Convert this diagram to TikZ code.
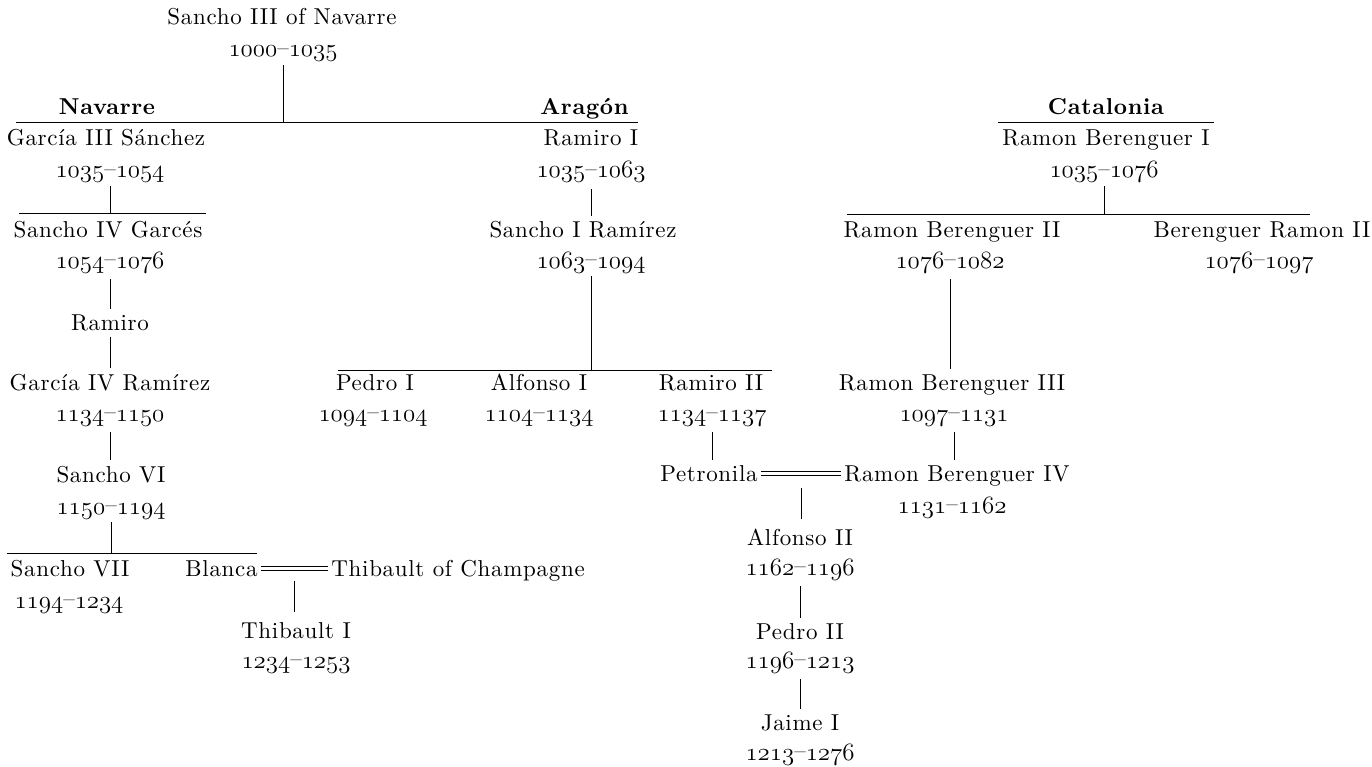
\documentclass[tikz,border=0pt]{standalone}
\usepackage{fontspec}
\setmainfont{lmroman10-regular}[Extension=.otf, BoldFont=lmroman10-bold, LetterSpace=3]
\newcommand\osf[1]{{\usefont{OML}{lmm}{m}{it}#1}}
\newcommand\yrs[2]{\osf{#1}\raisebox{.06em}{\textendash}\osf{#2}}
\newcommand\fs{\fontsize{23}{27}\selectfont}
\tikzset{
  nm/.style={anchor=base, inner sep=3pt, font=\fs},
  dt/.style={anchor=base, inner sep=3pt, font=\fs},
  hd/.style={anchor=base, inner sep=3pt, font=\fs\bfseries},
  cn/.style={shorten <=3pt, shorten >=2pt},
  ln/.style={line width=0.8pt}
}
\begin{document}
\begin{tikzpicture}[x=1pt, y=-1pt, line width=0.8pt]
\useasboundingbox (0,0) rectangle (1372,767);
% root
\node[nm] (s3) at (282,25) {Sancho III of Navarre};
\node[dt] (s3d) at (283,57) {\yrs{1000}{1035}};
\node[hd] (hnav) at (107,115) {Navarre};
\node[hd, anchor=base east] (harag) at (632,115) {Aragón};
\node[hd] (hcat) at (1106,115) {Catalonia};
\coordinate (tL) at (16,122); \coordinate (tR) at (638,122);
\coordinate (cL) at (998,122); \coordinate (cR) at (1214,122);
% Navarre
\node[nm] (g3) at (106,146) {García III Sánchez};
\node[dt] (g3d) at (110,178) {\yrs{1035}{1054}};
\coordinate (nb1L) at (19,213); \coordinate (nb1R) at (206,213);
\node[nm] (s4) at (108,238) {Sancho IV Garcés};
\node[dt] (s4d) at (110,268) {\yrs{1054}{1076}};
\node[nm] (ram) at (110,330) {Ramiro};
\node[nm] (g4) at (110,390) {García IV Ramírez};
\node[dt] (g4d) at (110,421) {\yrs{1134}{1150}};
\node[nm] (s6) at (111,482) {Sancho VI};
\node[dt] (s6d) at (111,514) {\yrs{1150}{1194}};
\coordinate (nb2L) at (7,553); \coordinate (nb2R) at (257,553);
\node[nm] (s7) at (70,576) {Sancho VII};
\node[dt] (s7d) at (69,608) {\yrs{1194}{1234}};
\node[nm, anchor=base east] (bla) at (261,576) {Blanca};
\node[nm, anchor=base west] (thc) at (328,576) {Thibault of Champagne};
\node[nm] (th1) at (296,638) {Thibault I};
\node[dt] (th1d) at (296,668) {\yrs{1234}{1253}};
% Aragon
\node[nm] (r1) at (591,146) {Ramiro I};
\node[dt] (r1d) at (591,178) {\yrs{1035}{1063}};
\node[nm] (s1r) at (583,238) {Sancho I Ramírez};
\node[dt] (s1rd) at (591,268) {\yrs{1063}{1094}};
\coordinate (abL) at (338,370); \coordinate (abR) at (772,370);
\node[nm] (p1) at (375,390) {Pedro I};
\node[dt] (p1d) at (373,421) {\yrs{1094}{1104}};
\node[nm] (a1) at (539,390) {Alfonso I};
\node[dt] (a1d) at (539,421) {\yrs{1104}{1134}};
\node[nm] (r2) at (711,390) {Ramiro II};
\node[dt] (r2d) at (712,421) {\yrs{1134}{1137}};
\node[nm, anchor=base east] (pet) at (761,481) {Petronila};
\node[nm, anchor=base west] (rb4) at (841,481) {Ramon Berenguer IV};
\node[dt] (rb4d) at (952,513) {\yrs{1131}{1162}};
\node[nm] (a2) at (800,545) {Alfonso II};
\node[dt] (a2d) at (800,575) {\yrs{1162}{1196}};
\node[nm] (p2) at (800,639) {Pedro II};
\node[dt] (p2d) at (800,668) {\yrs{1196}{1213}};
\node[nm] (j1) at (800,730) {Jaime I};
\node[dt] (j1d) at (800,760) {\yrs{1213}{1276}};
% Catalonia
\node[nm] (rb1) at (1106,146) {Ramon Berenguer I};
\node[dt] (rb1d) at (1104,178) {\yrs{1035}{1076}};
\coordinate (cbL) at (847,214); \coordinate (cbR) at (1310,214);
\node[nm] (rb2) at (952,238) {Ramon Berenguer II};
\node[dt] (rb2d) at (950,268) {\yrs{1076}{1082}};
\node[nm] (br2) at (1262,238) {Berenguer Ramon II};
\node[dt] (br2d) at (1259,268) {\yrs{1076}{1097}};
\node[nm] (rb3) at (952,390) {Ramon Berenguer III};
\node[dt] (rb3d) at (954,421) {\yrs{1097}{1131}};
% connectors
\draw (s3d.south) -- (s3d.south |- tL);
\draw (tL) -- (tR);
\draw (cL) -- (cR);
\draw (g3d.south) -- (g3d.south |- nb1L);
\draw (nb1L) -- (nb1R);
\draw[cn] (s4d.south) -- (ram.north -| s4d.south);
\draw[cn] (ram.south) -- (g4.north);
\draw[cn] (g4d.south) -- (s6.north -| g4d.south);
\draw (s6d.south) -- (s6d.south |- nb2L);
\draw (nb2L) -- (nb2R);
% Blanca = Thibault of Champagne
\draw ([yshift=2pt]bla.east) -- ([yshift=2pt]bla.east -| thc.west);
\draw ([yshift=-2pt]bla.east) -- ([yshift=-2pt]bla.east -| thc.west);
\path (bla.east) -- (bla.east -| thc.west) coordinate[midway] (bm);
\draw[shorten <=13pt, shorten >=7pt] (bm) -- (bm |- th1.north);
\draw[cn] (r1d.south) -- (s1r.north -| r1d.south);
\draw (s1rd.south) -- (s1rd.south |- abL);
\draw (abL) -- (abR);
\draw[cn] (r2d.south) -- (pet.north -| r2d.south);
% Petronila = Ramon Berenguer IV
\draw ([yshift=2pt]pet.east) -- ([yshift=2pt]pet.east -| rb4.west);
\draw ([yshift=-2pt]pet.east) -- ([yshift=-2pt]pet.east -| rb4.west);
\path (pet.east) -- (pet.east -| rb4.west) coordinate[midway] (pm);
\draw[shorten <=15pt, shorten >=6pt] (pm) -- (pm |- a2.north);
\draw[cn] (a2d.south) -- (p2.north);
\draw[cn] (p2d.south) -- (j1.north);
\draw (rb1d.south) -- (rb1d.south |- cbL);
\draw (cbL) -- (cbR);
\draw[cn] (rb2d.south) -- (rb3.north -| rb2d.south);
\draw[cn] (rb3d.south) -- (rb4.north -| rb3d.south);
\end{tikzpicture}
\end{document}
